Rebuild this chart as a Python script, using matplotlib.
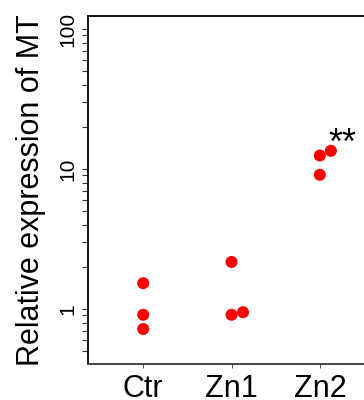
import matplotlib
matplotlib.use("Agg")
import matplotlib.pyplot as plt
from matplotlib.ticker import LogLocator, NullFormatter, FixedLocator

plt.rcParams['font.family'] = ['Liberation Sans', 'DejaVu Sans']

# ── Data ─────────────────────────────────────────────────────────────────
groups   = ["Ctr", "Zn1", "Zn2"]
ctr_vals = [1.53, 0.91, 0.72]
zn1_vals = [2.17, 0.91, 0.95]
zn2_vals = [12.5, 13.5, 9.1]
# small horizontal jitter (in group units) used by the strip chart
ctr_jit  = [0.0, 0.0, 0.0]
zn1_jit  = [0.0, 0.0, 0.13]
zn2_jit  = [0.0, 0.125, 0.0]
sig_label = "**"
sig_group = 3
sig_y     = 12.8

# ── Plot ─────────────────────────────────────────────────────────────────
fig = plt.figure(figsize=(3.64, 4.0), dpi=100)
ax = fig.add_axes([0.2418, 0.09, 0.7885, 0.87])

for i, (vals, jit) in enumerate([(ctr_vals, ctr_jit),
                                 (zn1_vals, zn1_jit),
                                 (zn2_vals, zn2_jit)], start=1):
    xs = [i + j for j in jit]
    ax.scatter(xs, vals, s=75, color="#ff0000", edgecolors="none",
               zorder=3, clip_on=False)

ax.text(sig_group + 0.25, sig_y, sig_label, ha="center", va="baseline",
        fontsize=26, color="black")

ax.set_yscale("log")
ax.set_xlim(0.375, 3.625)
ax.set_ylim(0.405, 124)

ax.set_xticks(range(1, len(groups) + 1))
ax.set_xticklabels(groups, fontsize=22)

ax.yaxis.set_major_locator(FixedLocator([1, 10, 100]))
ax.set_yticklabels(["1", "10", "100"], fontsize=15, rotation=90, va="center")
ax.yaxis.set_minor_locator(LogLocator(base=10, subs=range(2, 10)))
ax.yaxis.set_minor_formatter(NullFormatter())

ax.tick_params(axis="y", which="both", length=4, width=0.8,
               color="#333333", pad=4)
ax.tick_params(axis="x", length=3, width=0.8, color="#555555", pad=4)

ax.set_ylabel("Relative expression of MT", fontsize=22)
ax.yaxis.set_label_coords(-0.146, 0.5)

for side in ["left", "top", "right"]:
    ax.spines[side].set_linewidth(1.4)
    ax.spines[side].set_color("#111111")
ax.spines["bottom"].set_linewidth(1.4)
ax.spines["bottom"].set_color("#444444")

fig.savefig("out.png", dpi=100)
